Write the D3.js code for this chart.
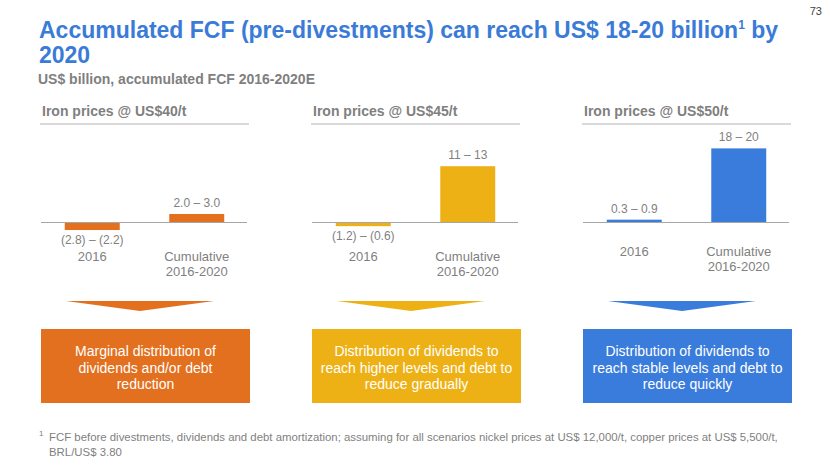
<!DOCTYPE html>
<html>
<head>
<meta charset="utf-8">
<script src="https://cdn.jsdelivr.net/npm/d3@7"></script>
<style>
  html, body { margin: 0; padding: 0; background: #ffffff; }
  svg { display: block; font-family: "Liberation Sans", Arial, sans-serif; }
</style>
</head>
<body>
<svg id="chart" width="830" height="467"></svg>
<script>
// ---------- data ----------
const scenarios = ["Iron prices @ US$40/t", "Iron prices @ US$45/t", "Iron prices @ US$50/t"];
const categories = ["2016", "Cumulative 2016-2020"];
const categoryLines = [["2016"], ["Cumulative", "2016-2020"]];
// bar heights = middle of each range (US$ billion)
const barValues = [[-2.5, 2.5], [-0.9, 12], [0.6, 19]];
const valueLabels = [["(2.8) – (2.2)", "2.0 – 3.0"], ["(1.2) – (0.6)", "11 – 13"], ["0.3 – 0.9", "18 – 20"]];
// each panel in the source has its own vertical scale
const axisMax = [29, 20, 24];
const scenarioColors = ["#E2701F", "#EDB115", "#3A7CDB"];
const boxLines = [
  ["Marginal distribution of", "dividends and/or debt", "reduction"],
  ["Distribution of dividends to", "reach higher levels and debt to", "reduce gradually"],
  ["Distribution of dividends to", "reach stable levels and debt to", "reduce quickly"]
];
const titleLine1 = "Accumulated FCF (pre-divestments) can reach US$ 18-20 billion";
const titleLine1b = " by";
const titleLine2 = "2020";
const subtitle = "US$ billion, accumulated FCF 2016-2020E";
const footLine1 = "FCF before divestments, dividends and debt amortization; assuming for all scenarios nickel prices at US$ 12,000/t, copper prices at US$ 5,500/t,";
const footLine2 = "BRL/US$ 3.80";
const pageNumber = "73";

// ---------- drawing ----------
const svg = d3.select("#chart");
const gray = "#7F7F7F";

// page number
svg.append("text").attr("x", 822).attr("y", 15).attr("text-anchor", "end")
  .attr("font-size", 11).attr("fill", "#404040").text(pageNumber);

// title
const title = svg.append("text").attr("x", 39).attr("y", 38)
  .attr("font-size", 23).attr("font-weight", "bold").attr("fill", "#3A7BD8");
title.append("tspan").text(titleLine1);
title.append("tspan").attr("font-size", 12).attr("dy", -9).text("1");
title.append("tspan").attr("dy", 9).text(titleLine1b);
svg.append("text").attr("x", 39).attr("y", 63)
  .attr("font-size", 23).attr("font-weight", "bold").attr("fill", "#3A7BD8").text(titleLine2);

svg.append("text").attr("x", 38).attr("y", 84)
  .attr("font-size", 14).attr("font-weight", "bold").attr("fill", gray).text(subtitle);

const panelLeft = [40, 311, 582];
const panelWidth = 209;
const baseY = 222, topY = 129;

scenarios.forEach((name, i) => {
  const g = svg.append("g").attr("transform", `translate(${panelLeft[i]},0)`);
  const x = d3.scaleBand().domain(categories).range([0, panelWidth]).paddingInner(0.474).paddingOuter(0.237);
  const y = d3.scaleLinear().domain([0, axisMax[i]]).range([baseY, topY]);

  // header
  g.append("text").attr("x", 2).attr("y", 116)
    .attr("font-size", 14).attr("font-weight", "bold").attr("fill", gray).text(name);
  g.append("line").attr("x1", 0).attr("x2", panelWidth).attr("y1", 124).attr("y2", 124)
    .attr("stroke", "#D9D9D9").attr("stroke-width", 2);

  // bars
  const data = categories.map((c, j) => ({ c, v: barValues[i][j], label: valueLabels[i][j], lines: categoryLines[j] }));
  g.selectAll("rect.bar").data(data).enter().append("rect")
    .attr("class", "bar")
    .attr("x", d => x(d.c))
    .attr("width", x.bandwidth())
    .attr("y", d => Math.min(y(d.v), y(0)))
    .attr("height", d => Math.abs(y(d.v) - y(0)))
    .attr("fill", scenarioColors[i]);

  // baseline
  g.append("line").attr("x1", 1).attr("x2", panelWidth - 2).attr("y1", baseY + 0.5).attr("y2", baseY + 0.5)
    .attr("stroke", "#A6A6A6").attr("stroke-width", 1.2);

  // value labels
  g.selectAll("text.val").data(data).enter().append("text")
    .attr("class", "val")
    .attr("x", d => x(d.c) + x.bandwidth() / 2)
    .attr("y", d => d.v >= 0 ? y(d.v) - 7 : y(d.v) + 14)
    .attr("text-anchor", "middle").attr("font-size", 12).attr("fill", gray)
    .text(d => d.label);

  // category labels
  const hasNeg = barValues[i].some(v => v < 0);
  const catY = baseY + (hasNeg ? 39 : 34);
  data.forEach(d => {
    const t = g.append("text").attr("text-anchor", "middle").attr("font-size", 13).attr("fill", gray);
    d.lines.forEach((ln, k) => {
      t.append("tspan").attr("x", x(d.c) + x.bandwidth() / 2).attr("y", catY + k * 15).text(ln);
    });
  });

  // funnel arrow
  const cx = 100, hw = 74;
  g.append("path")
    .attr("d", `M${cx - hw},301 L${cx + hw},301 L${cx},311 Z`)
    .attr("fill", scenarioColors[i]);

  // outcome box
  g.append("rect").attr("x", 1).attr("y", 329).attr("width", panelWidth).attr("height", 74)
    .attr("fill", scenarioColors[i]);
  const bt = g.append("text").attr("text-anchor", "middle").attr("font-size", 14).attr("fill", "#FFFFFF");
  boxLines[i].forEach((ln, k) => {
    bt.append("tspan").attr("x", 1 + panelWidth / 2).attr("y", 356 + k * 16.5).text(ln);
  });
});

// footnote
svg.append("text").attr("x", 39).attr("y", 436).attr("font-size", 8).attr("fill", gray).text("1");
svg.append("text").attr("x", 49).attr("y", 441).attr("font-size", 11.4).attr("fill", gray).text(footLine1);
svg.append("text").attr("x", 49).attr("y", 456).attr("font-size", 11.4).attr("fill", gray).text(footLine2);
</script>
</body>
</html>
